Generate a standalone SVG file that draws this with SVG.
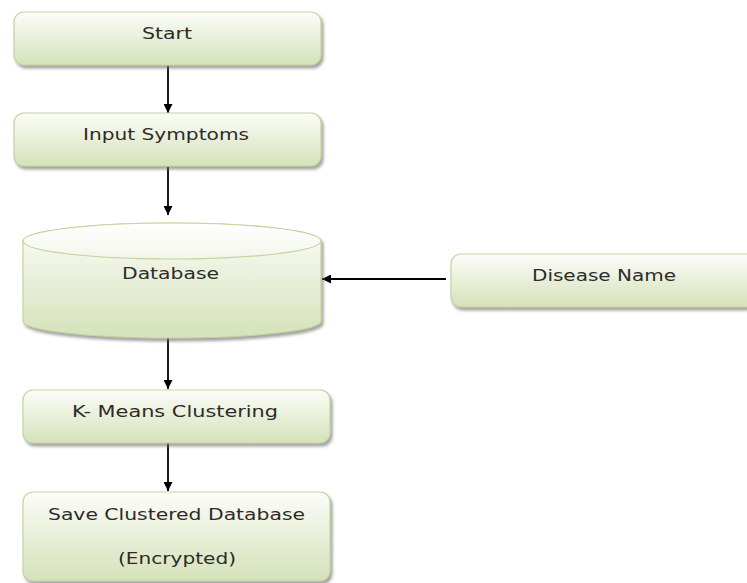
<svg xmlns="http://www.w3.org/2000/svg" width="747" height="583" viewBox="0 0 747 583">
  <defs>
    <linearGradient id="boxFill" x1="0" y1="0" x2="0" y2="1">
      <stop offset="0" stop-color="#fcfdf9"/>
      <stop offset="0.5" stop-color="#e8efd9"/>
      <stop offset="1" stop-color="#d5e2b9"/>
    </linearGradient>
    <linearGradient id="capFill" x1="0" y1="0" x2="0" y2="1">
      <stop offset="0" stop-color="#ffffff"/>
      <stop offset="1" stop-color="#f3f6ec"/>
    </linearGradient>
    <filter id="shadow" x="-10%" y="-20%" width="120%" height="150%">
      <feDropShadow dx="2" dy="3" stdDeviation="1.4" flood-color="#6f6f6f" flood-opacity="0.65"/>
    </filter>
    <marker id="arrow" viewBox="0 0 10 10" refX="10" refY="5" markerWidth="9" markerHeight="9" markerUnits="userSpaceOnUse" orient="auto">
      <path d="M0,0 L10,5 L0,10 z" fill="#000"/>
    </marker>
    <style>
      .box { fill: url(#boxFill); stroke: #c3d59e; stroke-width: 1.2; filter: url(#shadow); }
      .cap { fill: url(#capFill); stroke: #c3d59e; stroke-width: 1.2; }
      .label { font-family: "DejaVu Sans", Verdana, sans-serif; font-size: 16px; fill: #2e2a2a; text-anchor: middle; }
      .edge { stroke: #000; stroke-width: 1.8; fill: none; marker-end: url(#arrow); }
    </style>
  </defs>

  <rect width="747" height="583" fill="#ffffff"/>

  <!-- connectors -->
  <g id="connectors">
    <line class="edge" x1="168" y1="66" x2="168" y2="113"/>
    <line class="edge" x1="168" y1="167" x2="168" y2="215"/>
    <line class="edge" x1="168" y1="338" x2="168" y2="389"/>
    <line class="edge" x1="168" y1="443" x2="168" y2="491"/>
    <line class="edge" x1="446" y1="279" x2="322" y2="279"/>
  </g>

  <g id="start">
    <rect class="box" x="14" y="12" width="307" height="53" rx="10"/>
    <text class="label" x="167" y="39" textLength="50" lengthAdjust="spacingAndGlyphs">Start</text>
  </g>

  <g id="input-symptoms">
    <rect class="box" x="14" y="113" width="307" height="53" rx="10"/>
    <text class="label" x="166" y="140" textLength="166" lengthAdjust="spacingAndGlyphs">Input Symptoms</text>
  </g>

  <g id="database">
    <path class="box" d="M23,241 L23,321 A149,17 0 0 0 321,321 L321,241 A149,18 0 0 0 23,241 z"/>
    <ellipse class="cap" cx="172" cy="241" rx="149" ry="18"/>
    <text class="label" x="170.5" y="279" textLength="97" lengthAdjust="spacingAndGlyphs">Database</text>
  </g>

  <g id="disease-name">
    <rect class="box" x="451" y="254" width="306" height="53" rx="10"/>
    <text class="label" x="604" y="281" textLength="144" lengthAdjust="spacingAndGlyphs">Disease Name</text>
  </g>

  <g id="k-means">
    <rect class="box" x="23" y="390" width="307" height="53" rx="10"/>
    <text class="label" x="175" y="417" textLength="206" lengthAdjust="spacingAndGlyphs">K- Means Clustering</text>
  </g>

  <g id="save-clustered">
    <rect class="box" x="23" y="492" width="307" height="89" rx="10"/>
    <text class="label" x="176.5" y="520" textLength="257" lengthAdjust="spacingAndGlyphs">Save Clustered Database</text>
    <text class="label" x="177" y="564" textLength="118" lengthAdjust="spacingAndGlyphs">(Encrypted)</text>
  </g>
</svg>
